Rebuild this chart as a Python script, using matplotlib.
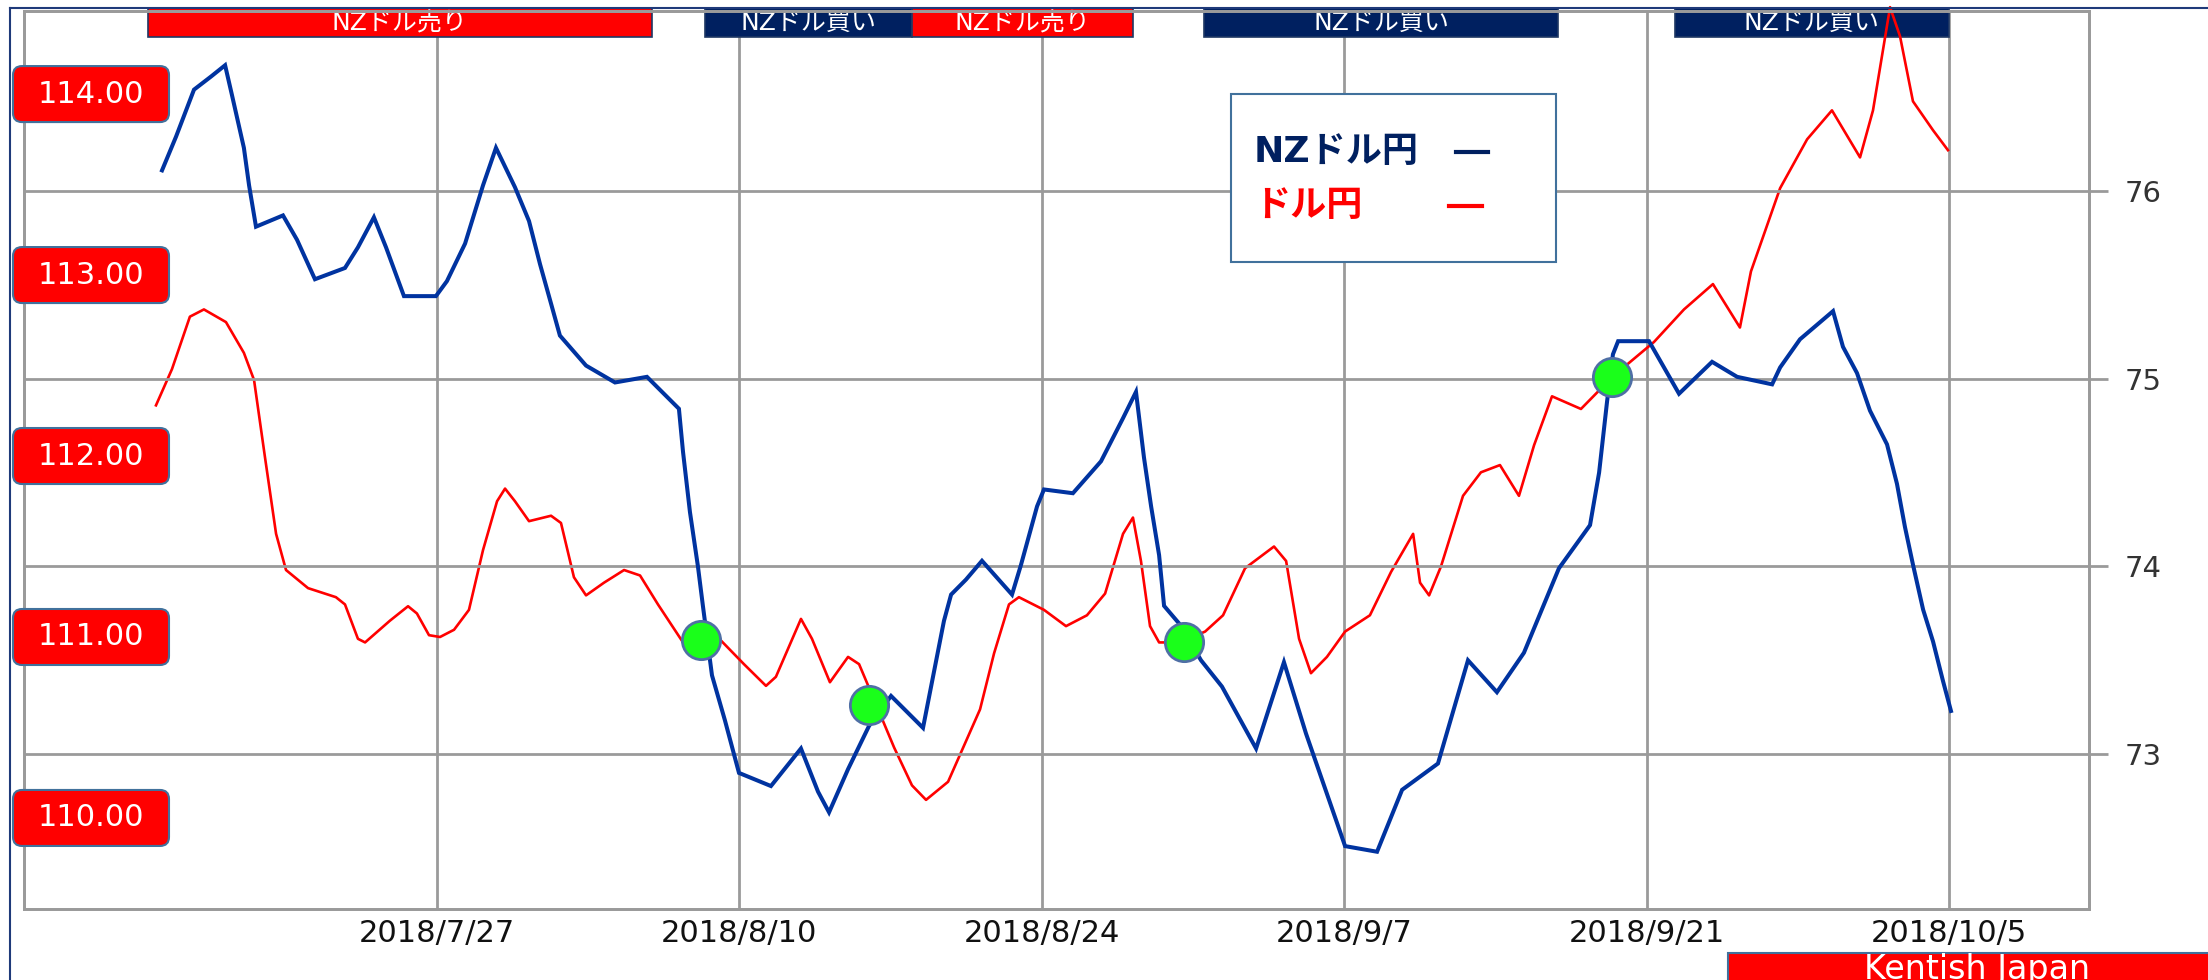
import numpy as np
import matplotlib.pyplot as plt
import matplotlib.dates as mdates
from matplotlib.patches import Rectangle, FancyBboxPatch
from matplotlib.lines import Line2D
from matplotlib.transforms import IdentityTransform, blended_transform_factory
from datetime import datetime, timedelta

plt.rcParams['font.family'] = ['DejaVu Sans', 'Noto Sans CJK JP']

# ---- data (days counted from 2018/7/27) ----
nzd_day = [-12.73, -12.08, -11.25, -10.46, -9.81, -9.49, -8.94, -8.70, -8.38, -7.13,
           -6.48, -5.65, -4.26, -3.66, -2.92, -2.36, -1.53, -0.05, 0.46, 1.30,
           2.13, 2.73, 3.61, 4.26, 4.77, 5.28, 5.69, 6.90, 8.24, 9.72,
           11.20, 11.39, 11.71, 12.08, 12.31, 12.73, 13.33, 13.98, 15.46, 16.85,
           17.64, 18.15, 19.03, 20.00, 21.02, 22.50, 23.01, 23.47, 23.80, 24.49,
           25.23, 26.62, 27.04, 27.78, 28.10, 29.44, 30.74, 31.76, 32.36, 32.73,
           33.06, 33.43, 33.66, 34.40, 35.37, 36.34, 37.92, 39.21, 40.23, 42.04,
           43.52, 44.68, 46.34, 47.73, 49.07, 50.32, 51.94, 53.38, 53.80, 54.17,
           54.44, 54.68, 56.11, 57.50, 59.03, 60.19, 61.81, 62.18, 63.10, 64.63,
           65.09, 65.74, 66.34, 67.13, 67.59, 67.96, 68.33, 68.80, 69.26, 69.72, 70.09]
nzd_jpy = [76.11, 76.29, 76.54, 76.61, 76.67, 76.51, 76.23, 76.03, 75.81, 75.87,
           75.74, 75.53, 75.59, 75.70, 75.86, 75.70, 75.44, 75.44, 75.52, 75.72,
           76.03, 76.23, 76.02, 75.84, 75.61, 75.40, 75.23, 75.07, 74.98, 75.01,
           74.84, 74.61, 74.29, 74.00, 73.79, 73.42, 73.18, 72.90, 72.83, 73.03,
           72.80, 72.69, 72.92, 73.15, 73.31, 73.14, 73.44, 73.71, 73.85, 73.93,
           74.03, 73.85, 74.01, 74.32, 74.41, 74.39, 74.56, 74.79, 74.93, 74.58,
           74.32, 74.06, 73.79, 73.69, 73.50, 73.36, 73.03, 73.49, 73.11, 72.51,
           72.48, 72.81, 72.95, 73.50, 73.33, 73.54, 73.99, 74.22, 74.50, 74.88,
           75.13, 75.20, 75.20, 74.92, 75.09, 75.01, 74.97, 75.06, 75.21, 75.36,
           75.17, 75.03, 74.83, 74.65, 74.44, 74.21, 74.01, 73.77, 73.60, 73.39, 73.23]

usd_day = [-13.01, -12.27, -11.44, -10.79, -9.77, -8.94, -8.47, -7.96, -7.45, -6.99,
           -5.97, -4.68, -4.26, -3.66, -3.33, -2.18, -1.34, -0.93, -0.37, 0.14,
           0.79, 1.48, 2.13, 2.78, 3.15, 3.61, 4.26, 5.28, 5.74, 6.34,
           6.90, 7.73, 8.66, 9.40, 10.23, 11.39, 13.15, 14.21, 15.23, 15.69,
           16.85, 17.36, 18.19, 19.03, 19.54, 20.00, 21.16, 21.99, 22.64, 23.66,
           25.14, 25.79, 26.48, 26.94, 28.10, 29.12, 30.09, 30.93, 31.76, 32.22,
           32.59, 33.01, 33.43, 34.40, 35.56, 36.39, 37.41, 38.75, 39.31, 39.91,
           40.46, 41.20, 42.04, 43.19, 44.17, 45.19, 45.51, 45.93, 46.48, 47.50,
           48.33, 49.21, 50.09, 50.79, 51.62, 52.96, 54.44, 56.34, 57.73, 59.07,
           60.32, 60.83, 62.18, 63.43, 64.58, 65.88, 66.48, 67.27, 67.73, 68.33,
           69.26, 69.95]
usd_jpy = [112.28, 112.48, 112.77, 112.81, 112.74, 112.57, 112.42, 111.99, 111.57, 111.37,
           111.27, 111.22, 111.18, 110.99, 110.97, 111.09, 111.17, 111.13, 111.01, 111.00,
           111.04, 111.15, 111.48, 111.75, 111.82, 111.75, 111.64, 111.67, 111.63, 111.33,
           111.23, 111.30, 111.37, 111.34, 111.18, 110.97, 110.98, 110.85, 110.73, 110.78,
           111.10, 110.99, 110.75, 110.89, 110.85, 110.72, 110.39, 110.18, 110.10, 110.20,
           110.60, 110.91, 111.18, 111.22, 111.15, 111.06, 111.12, 111.24, 111.57, 111.66,
           111.42, 111.06, 110.97, 110.97, 111.03, 111.12, 111.38, 111.50, 111.42, 110.99,
           110.80, 110.89, 111.03, 111.12, 111.36, 111.57, 111.30, 111.23, 111.39, 111.78,
           111.91, 111.95, 111.78, 112.06, 112.33, 112.26, 112.44, 112.63, 112.81, 112.95,
           112.71, 113.02, 113.48, 113.75, 113.91, 113.65, 113.91, 114.48, 114.32, 113.96,
           113.80, 113.69]

cross_day = [12.22, 20.00, 34.58, 54.40]
cross_nzd = [73.61, 73.26, 73.60, 75.01]

signal_start = [-13.4, 12.4, 22.0, 35.5, 57.3]
signal_end = [9.95, 22.0, 32.2, 51.9, 70.0]
signal_label = ['NZドル売り', 'NZドル買い', 'NZドル売り', 'NZドル買い', 'NZドル買い']

usd_levels = [110, 111, 112, 113, 114]
nzd_levels = [73, 74, 75, 76]
tick_dates = [datetime(2018, 7, 27) + timedelta(days=14 * k) for k in range(6)]

# ---- style ----
W, H = 2208, 980
GRID = '#9a9a9a'
NAVY = '#002060'
BLUE = '#0033a0'
EDGE = '#41719c'
pix = IdentityTransform()


def py(y):
    return H - y


base = mdates.date2num(datetime(2018, 7, 27))

fig = plt.figure(figsize=(W / 100, H / 100), dpi=100)
L, R, T, B = 24, 2089, 11, 909
ax = fig.add_axes([L / W, 1 - B / H, (R - L) / W, (B - T) / H])
ax2 = ax.twinx()

ax.set_xlim(base - 19.12, base + 76.48)
ax.set_ylim(109.497, 114.459)
ax2.set_ylim(72.175, 76.959)

ax.set_xticks(mdates.date2num(tick_dates))
ax.set_xticklabels([f"{d.year}/{d.month}/{d.day}" for d in tick_dates])
ax.tick_params(axis='x', length=0, pad=7, labelsize=22, labelcolor='#111111')
ax.tick_params(axis='y', left=False, labelleft=False, right=False, labelright=False)
ax.set_axisbelow(True)
ax.xaxis.grid(True, color=GRID, lw=2)

ax2.set_yticks(nzd_levels)
ax2.tick_params(axis='y', right=True, direction='out', length=14, width=2, color=GRID,
                pad=12, labelsize=21, labelcolor='#333333')
ax2.yaxis.grid(True, color=GRID, lw=2)
for a in (ax, ax2):
    for s in a.spines.values():
        s.set_color(GRID)
        s.set_linewidth(2)

ax.plot(base + np.array(usd_day), usd_jpy, color='#ff0000', lw=1.9, zorder=2,
        clip_on=False, solid_joinstyle='round')
ax2.plot(base + np.array(nzd_day), nzd_jpy, color=BLUE, lw=2.9, zorder=3,
         solid_joinstyle='miter')
ax2.scatter(base + np.array(cross_day), cross_nzd, s=760, c='#1aff1a',
            edgecolors='#4f6fa5', linewidths=2, zorder=5, clip_on=False)

# signal banners along the top (x in dates, y in pixels)
btr = blended_transform_factory(ax.transData, pix)
for x0, x1, lab in zip(signal_start, signal_end, signal_label):
    col = '#ff0000' if '売り' in lab else NAVY
    ax.add_artist(Rectangle((base + x0, py(37)), x1 - x0, 29, transform=btr,
                            facecolor=col, edgecolor='#1f3864', lw=1.2,
                            clip_on=False, zorder=1))
    ax.text(base + (x0 + x1) / 2, py(23), lab, transform=btr, ha='center', va='center',
            color='white', fontsize=18, zorder=1.1, clip_on=False)

# left USD/JPY value boxes
for v in usd_levels:
    yd = ax.transData.transform((base, v))[1]
    fig.add_artist(FancyBboxPatch((13, yd - 28), 156, 56,
                                  boxstyle='round,pad=0,rounding_size=9', transform=pix,
                                  facecolor='#ff0000', edgecolor=EDGE, lw=1.5))
    fig.text(91, yd, f"{v:.2f}", transform=pix, ha='center', va='center',
             color='white', fontsize=22)

# legend box
fig.add_artist(Rectangle((1231, py(262)), 325, 168, transform=pix,
                         facecolor='white', edgecolor=EDGE, lw=1.5))
fig.text(1254, py(152), 'NZドル円', transform=pix, ha='left', va='center',
         color=NAVY, fontsize=26, fontweight='bold')
fig.add_artist(Line2D([1456, 1488], [py(152)] * 2, transform=pix, color=NAVY, lw=3))
fig.text(1254, py(206), 'ドル円', transform=pix, ha='left', va='center',
         color='#ff0000', fontsize=26, fontweight='bold')
fig.add_artist(Line2D([1449, 1482], [py(206)] * 2, transform=pix, color='#ff0000', lw=3))

# outer frame lines
fig.add_artist(Line2D([10, W], [py(8)] * 2, transform=pix, color='#1f3a7a', lw=1.5))
fig.add_artist(Line2D([10, 10], [0, py(8)], transform=pix, color='#1f3a7a', lw=1.5))

# credit box
fig.add_artist(Rectangle((1728, py(995)), 490, 42, transform=pix,
                         facecolor='#ff0000', edgecolor=EDGE, lw=1.5))
fig.text(1977, py(953), 'Kentish Japan', transform=pix, ha='center', va='top',
         color='white', fontsize=24)

fig.savefig('out.png', dpi=100, facecolor='white')
